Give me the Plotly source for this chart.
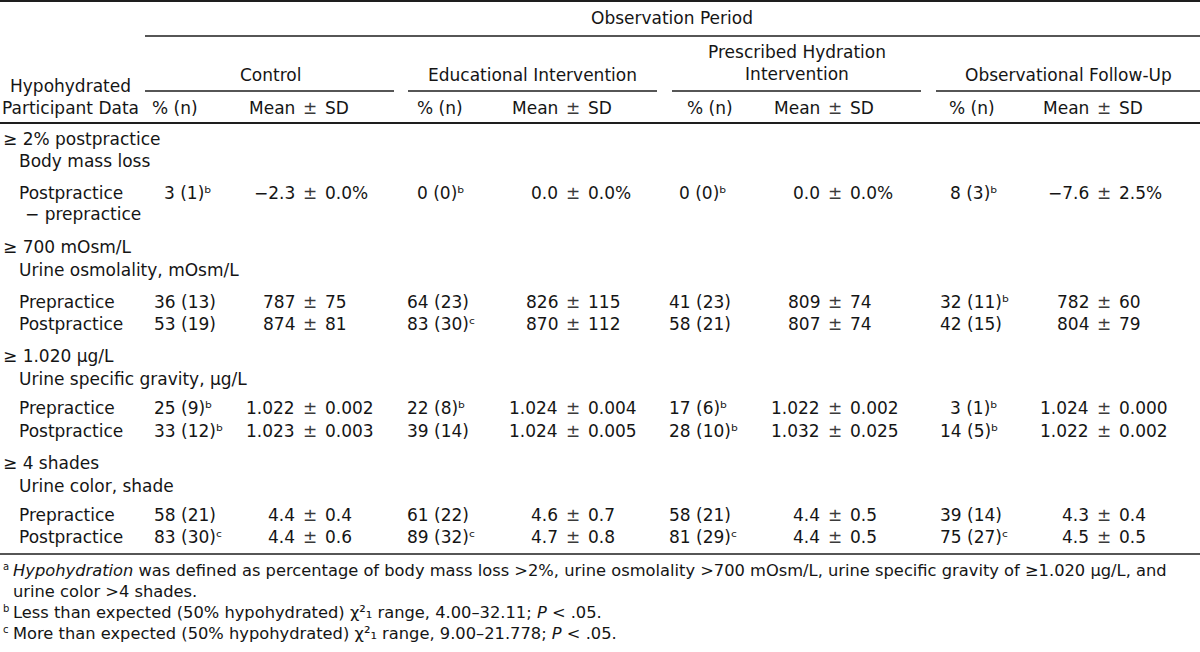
import plotly.graph_objects as go

# ---------------- data ----------------
group_names = ["Control", "Educational Intervention",
               "Prescribed Hydration<br>Intervention", "Observational Follow-Up"]
section_thresholds = ["≥ 2% postpractice", "≥ 700 mOsm/L", "≥ 1.020 μg/L", "≥ 4 shades"]
measure_names = ["Body mass loss", "Urine osmolality, mOsm/L",
                 "Urine specific gravity, μg/L", "Urine color, shade"]
row_labels = ["Postpractice<br>− prepractice", "Prepractice", "Postpractice",
              "Prepractice", "Postpractice", "Prepractice", "Postpractice"]
row_decimals = [1, 0, 0, 3, 3, 1, 1]
row_unit = ["%", "", "", "", "", "", ""]

control_pct = [3, 36, 53, 25, 33, 58, 83]
control_n = [1, 13, 19, 9, 12, 21, 30]
control_sig = ["b", "", "", "b", "b", "", "c"]
control_mean = [-2.3, 787, 874, 1.022, 1.023, 4.4, 4.4]
control_sd = [0.0, 75, 81, 0.002, 0.003, 0.4, 0.6]

educ_pct = [0, 64, 83, 22, 39, 61, 89]
educ_n = [0, 23, 30, 8, 14, 22, 32]
educ_sig = ["b", "", "c", "b", "", "", "c"]
educ_mean = [0.0, 826, 870, 1.024, 1.024, 4.6, 4.7]
educ_sd = [0.0, 115, 112, 0.004, 0.005, 0.7, 0.8]

presc_pct = [0, 41, 58, 17, 28, 58, 81]
presc_n = [0, 23, 21, 6, 10, 21, 29]
presc_sig = ["b", "", "", "b", "b", "", "c"]
presc_mean = [0.0, 809, 807, 1.022, 1.032, 4.4, 4.4]
presc_sd = [0.0, 74, 74, 0.002, 0.025, 0.5, 0.5]

follow_pct = [8, 32, 42, 3, 14, 39, 75]
follow_n = [3, 11, 15, 1, 5, 14, 27]
follow_sig = ["b", "b", "", "b", "b", "", "c"]
follow_mean = [-7.6, 782, 804, 1.024, 1.022, 4.3, 4.5]
follow_sd = [2.5, 60, 79, 0.000, 0.002, 0.4, 0.5]

footnotes = [
    ("a", "<i>Hypohydration</i> was defined as percentage of body mass loss &gt;2%, urine osmolality &gt;700 mOsm/L, urine specific gravity of ≥1.020 μg/L, and"),
    ("", "urine color &gt;4 shades."),
    ("b", "Less than expected (50% hypohydrated) χ²₁ range, 4.00–32.11; <i>P</i> &lt; .05."),
    ("c", "More than expected (50% hypohydrated) χ²₁ range, 9.00–21.778; <i>P</i> &lt; .05."),
]

groups = [
    (control_pct, control_n, control_sig, control_mean, control_sd),
    (educ_pct, educ_n, educ_sig, educ_mean, educ_sd),
    (presc_pct, presc_n, presc_sig, presc_mean, presc_sd),
    (follow_pct, follow_n, follow_sig, follow_mean, follow_sd),
]

# ---------------- layout constants ----------------
FONT = "DejaVu Sans"
FS = 17
FS_NOTE = 16.3
TXT = "#151515"
PM = "#3a3a3a"
LINE = "#1e1e1e"
W, H = 1200, 652
SUP = {"a": "ᵃ", "b": "ᵇ", "c": "ᶜ", "": ""}

col_pct_x = [153, 406, 668, 939]
col_pm_x = [310, 573, 835, 1104]
hdr_pct_x = [151, 416, 686, 948]
grp_center = [270, 532, 797, 1068]
grp_span = [(145, 394), (408, 657), (672, 921), (936, 1200)]
digit_w = 10

sec_y = [139, 247, 356, 463]
meas_y = [161, 270, 379, 486]
row_y = [193, 302, 324, 408, 431, 515, 537]
second_line_dy = 21
label_x, sec_x, dash_x = 18, 2, 24
note_y = [570, 591, 612, 633]


def fmt(v, d):
    return f"{v:.{d}f}".replace("-", "−")


def txt(x, y, s, anchor="left", size=FS, color=TXT):
    return dict(x=x, y=y, xref="x", yref="y", text=s, showarrow=False,
                xanchor=anchor, yanchor="middle", borderpad=0,
                font=dict(family=FONT, size=size, color=color))


ann = []
shapes = []


def hline(x0, x1, y, w=1.3):
    shapes.append(dict(type="line", xref="x", yref="y", x0=x0, x1=x1, y0=y, y1=y,
                       line=dict(color=LINE, width=w)))


# header
hline(0, W, 1, 2)
ann.append(txt(672, 18, "Observation Period", "center"))
hline(145, W, 36)
for g in range(4):
    yy = 63 if "<br>" in group_names[g] else 75
    ann.append(txt(grp_center[g], yy, group_names[g], "center"))
    hline(grp_span[g][0], grp_span[g][1], 91)
    ann.append(txt(hdr_pct_x[g], 108, "% (n)"))
    ann.append(txt(col_pm_x[g] - 14, 108, "Mean", "right"))
    ann.append(txt(col_pm_x[g], 108, "±", "center", color=PM))
    ann.append(txt(col_pm_x[g] + 14, 108, "SD", "left"))
ann.append(txt(70, 86, "Hypohydrated", "center"))
ann.append(txt(70, 108, "Participant Data", "center"))
hline(0, W, 123, 2)

# body
for k in range(4):
    ann.append(txt(sec_x, sec_y[k], section_thresholds[k]))
    ann.append(txt(label_x, meas_y[k], measure_names[k]))

for r, lab in enumerate(row_labels):
    parts = lab.split("<br>")
    ann.append(txt(label_x, row_y[r], parts[0]))
    if len(parts) > 1:
        ann.append(txt(dash_x, row_y[r] + second_line_dy, parts[1]))
    for g, (pct, n, sig, mean, sd) in enumerate(groups):
        s = f"{pct[r]} ({n[r]})" + SUP[sig[r]]
        xoff = digit_w if pct[r] < 10 else 0
        ann.append(txt(col_pct_x[g] + xoff, row_y[r], s))
        d = row_decimals[r]
        ann.append(txt(col_pm_x[g] - 14, row_y[r], fmt(mean[r], d), "right"))
        ann.append(txt(col_pm_x[g], row_y[r], "±", "center", color=PM))
        ann.append(txt(col_pm_x[g] + 14, row_y[r], fmt(sd[r], d) + row_unit[r], "left"))

hline(0, W, 554, 1.5)

# footnotes
for (mark, text), yy in zip(footnotes, note_y):
    if mark:
        ann.append(txt(2, yy - 4, mark, "left", 10))
    ann.append(txt(12, yy, text, "left", FS_NOTE))

fig = go.Figure()
fig.update_layout(
    width=W, height=H,
    margin=dict(l=0, r=0, t=0, b=0),
    paper_bgcolor="white", plot_bgcolor="white",
    xaxis=dict(range=[0, W], visible=False, fixedrange=True),
    yaxis=dict(range=[H, 0], visible=False, fixedrange=True),
    showlegend=False,
    annotations=ann, shapes=shapes,
)
fig.write_html(
    "out.html",
    config={"displayModeBar": False},
    post_script="document.body.style.margin='0px';document.body.style.overflow='hidden';",
)
